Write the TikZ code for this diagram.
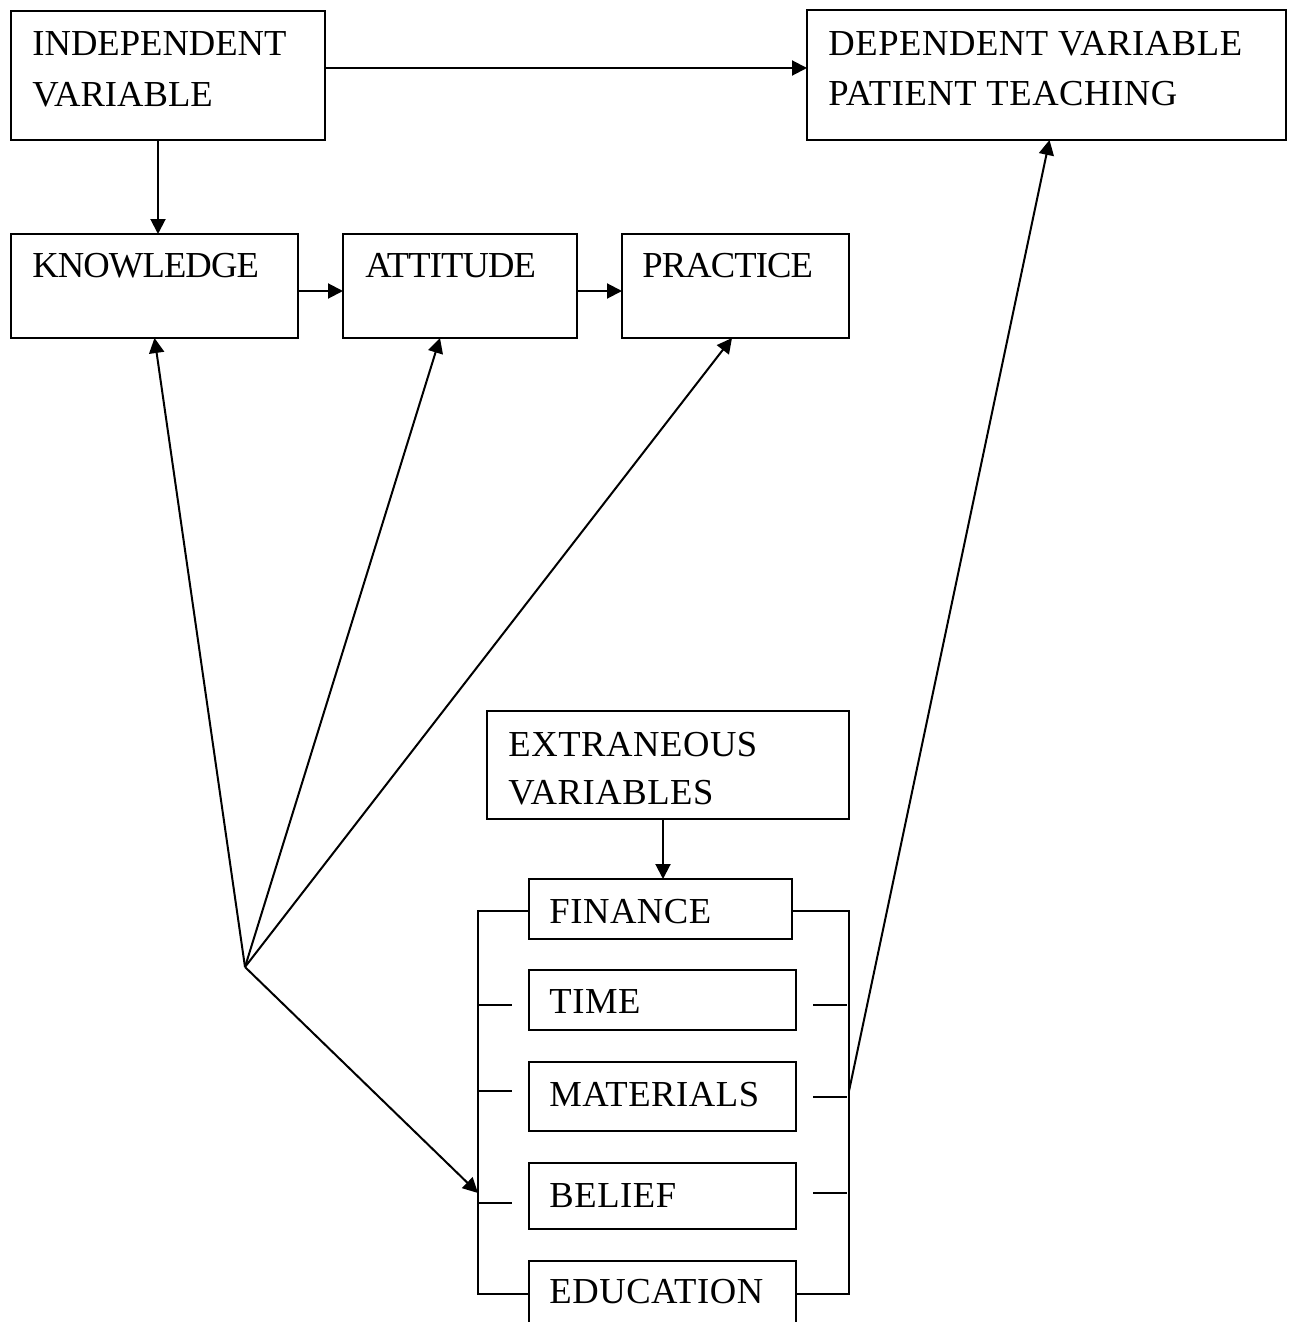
\documentclass[tikz,border=0pt]{standalone}
\usepackage{fontspec}
\setmainfont{Liberation Serif}
\newfontfamily\widefont[LetterSpace=1.5]{Liberation Serif}
\newfontfamily\tightfont[LetterSpace=-2.5]{Liberation Serif}
\usetikzlibrary{arrows.meta,calc}
\tikzset{
  boxst/.style={draw, line width=1pt, rectangle, inner sep=0pt, outer sep=0pt},
  txt/.style={anchor=base west, inner sep=0pt, font=\widefont\fontsize{18.3}{22}\selectfont},
  txtn/.style={txt, font=\rmfamily\fontsize{18.3}{22}\selectfont},
  txtt/.style={txt, font=\tightfont\fontsize{18.3}{22}\selectfont},
  arr/.style={line width=1pt, -{Triangle[length=7.5pt,width=7.5pt]}},
  ln/.style={line width=1pt}
}
\newcommand\bx[5]{\node[boxst, minimum width={(#4-#2)*0.5pt}, minimum height={(#5-#3)*0.5pt}] (#1) at ({(#2+#4)/2},{(#3+#5)/2}) {};}
\begin{document}
\begin{tikzpicture}[x=0.5pt,y=-0.5pt]
\clip (0,0) rectangle (1293,1322);
\fill[white] (0,0) rectangle (1293,1322);
% boxes
\bx{iv}{11}{11}{325}{140}
\bx{dv}{807}{10}{1286}{140}
\bx{kn}{11}{234}{298}{338}
\bx{at}{343}{234}{577}{338}
\bx{pr}{622}{234}{849}{338}
\bx{ex}{487}{711}{849}{819}
\bx{fi}{529}{879}{792}{939}
\bx{ti}{529}{970}{796}{1030}
\bx{ma}{529}{1062}{796}{1131}
\bx{be}{529}{1163}{796}{1229}
\bx{ed}{529}{1261}{796}{1345}
% texts
\node[txtn] (ivt1) at (32,56) {INDEPENDENT};
\node[txtn] (ivt2) at (32,106) {VARIABLE};
\node[txt] (dvt1) at (828,56) {DEPENDENT VARIABLE};
\node[txt] (dvt2) at (828,105) {PATIENT TEACHING};
\node[txtt] (knt) at (32,277) {KNOWLEDGE};
\node[txtt] (att) at (365,277) {ATTITUDE};
\node[txtt] (prt) at (642,277) {PRACTICE};
\node[txt] (ext1) at (508,756) {EXTRANEOUS};
\node[txt] (ext2) at (508,804) {VARIABLES};
\node[txt] (fit) at (549,923) {FINANCE};
\node[txt] (tit) at (549,1013) {TIME};
\node[txt] (mat) at (549,1106) {MATERIALS};
\node[txt] (bet) at (549,1207) {BELIEF};
\node[txt] (edt) at (549,1303) {EDUCATION};
% top arrows
\draw[arr] (iv.east |- 0,68) -- (dv.west |- 0,68);
\draw[arr] (iv.south -| 158,0) -- (kn.north -| 158,0);
\draw[arr] (kn.east |- 0,291) -- (at.west |- 0,291);
\draw[arr] (at.east |- 0,291) -- (pr.west |- 0,291);
\draw[arr] (ex.south -| 663,0) -- (fi.north -| 663,0);
% hub arrows
\coordinate (hub) at (245,967);
\coordinate (lb) at (478,1193);
\draw[arr] (hub) -- (kn.south);
\draw[arr] (hub) -- ($(at.south west)+(97,0)$);
\draw[arr] (hub) -- ($(pr.south west)+(110,0)$);
\draw[arr] (hub) -- (lb);
% left bracket
\draw[ln] (fi.west |- 0,911) -- (478,911) -- (478,1294) -- (ed.west |- 0,1294);
\draw[ln] (478,1005) -- (512,1005);
\draw[ln] (478,1091) -- (512,1091);
\draw[ln] (478,1203) -- (512,1203);
% right bracket
\draw[ln] (fi.east |- 0,911) -- (849,911) -- (849,1294) -- (ed.east |- 0,1294);
\draw[ln] (813,1005) -- (847,1005);
\draw[ln] (813,1097) -- (847,1097);
\draw[ln] (813,1193) -- (847,1193);
\coordinate (rb) at (849,1091);
\draw[arr] (rb) -- ($(dv.south)+(3,0)$);
\end{tikzpicture}
\end{document}
